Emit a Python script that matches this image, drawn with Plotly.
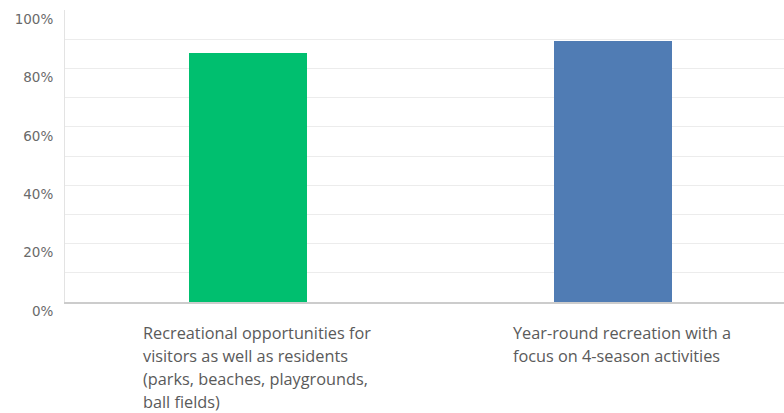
import plotly.graph_objects as go

# Survey answer options and the share of respondents choosing each
categories = ["recreational", "year_round"]
caption_lines = [
    [
        "Recreational opportunities for",
        "visitors as well as residents",
        "(parks, beaches, playgrounds,",
        "ball fields)",
    ],
    [
        "Year-round recreation with a",
        "focus on 4-season activities",
    ],
]
percent = [85.2, 89.3]
colors = ["#00BF6F", "#507CB4"]

y_ticks = [0, 20, 40, 60, 80, 100]
y_tick_text = [f"{v}%" for v in y_ticks]

fig = go.Figure(
    go.Bar(
        x=categories,
        y=percent,
        marker=dict(color=colors, line=dict(width=0)),
        width=0.323,
        hoverinfo="skip",
    )
)

# Category captions, left-aligned beneath each bar, one annotation per line
caption_offsets = [-106, -101]
line_step = 23.0
for cat, lines, dx in zip(categories, caption_lines, caption_offsets):
    for i, line in enumerate(lines):
        fig.add_annotation(
            x=cat, xref="x", y=0, yref="y",
            text=line, showarrow=False,
            xanchor="left", yanchor="middle", align="left",
            xshift=dx, yshift=-30.5 - line_step * i,
            borderpad=0,
            font=dict(family="Open Sans", size=16.3, color="#5a5a5a"),
        )

fig.update_layout(
    width=784, height=413,
    margin=dict(l=65, r=0, t=10, b=111),
    paper_bgcolor="white", plot_bgcolor="white",
    showlegend=False,
    bargap=0,
    font=dict(family="DejaVu Sans", color="#666666"),
)
fig.update_xaxes(
    range=[-0.5, 1.468],
    showticklabels=False, showgrid=False, zeroline=False,
    showline=True, linecolor="#cccccc", linewidth=1.5,
    ticks="",
)
fig.update_yaxes(
    range=[0, 100],
    tickvals=y_ticks, ticktext=y_tick_text,
    tickfont=dict(family="DejaVu Sans", size=13.5, color="#6a6a6a"),
    ticklabelshift=9, ticklabelstandoff=8,
    showgrid=True, gridcolor="#ececec", gridwidth=1,
    minor=dict(dtick=10, showgrid=True, gridcolor="#ececec", gridwidth=1),
    zeroline=False,
    showline=True, linecolor="#e3e3e3", linewidth=1,
    ticks="",
)

fig.write_html("out.html")
